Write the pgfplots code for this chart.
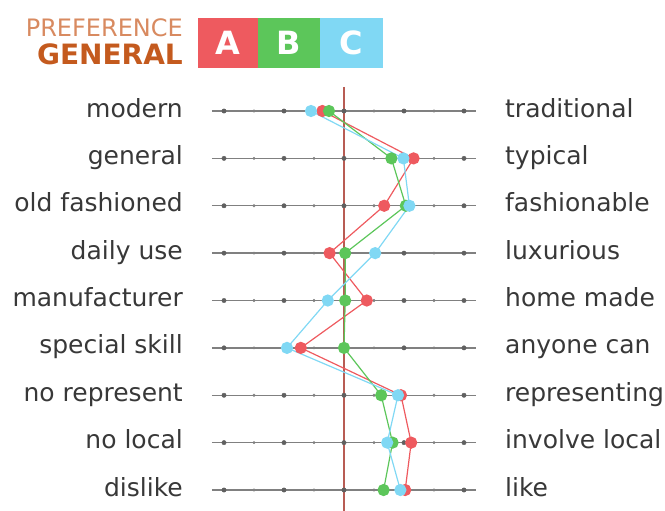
\documentclass[border=0pt]{standalone}
\usepackage{pgfplots}
\usepackage{pgfplotstable}
\pgfplotsset{compat=1.18}
\usepackage{fontspec}
\setmainfont{DejaVu Sans}
\definecolor{cA}{HTML}{EE5A5F}
\definecolor{cB}{HTML}{5CC65A}
\definecolor{cC}{HTML}{80D8F4}
\definecolor{vline}{HTML}{B85C54}
\definecolor{lab}{HTML}{383838}
\definecolor{t1}{HTML}{D88A60}
\definecolor{t2}{HTML}{C45A1E}
\definecolor{hl}{HTML}{808080}

\pgfplotstableread{
r A B C
0 -0.36 -0.25 -0.55
1 1.16 0.79 0.99
2 0.67 1.03 1.09
3 -0.24 0.02 0.52
4 0.38 0.02 -0.27
5 -0.72 0.00 -0.95
6 0.95 0.62 0.90
7 1.12 0.81 0.72
8 1.02 0.66 0.94
}\data

\begin{document}
\begin{tikzpicture}[x=1pt,y=1pt]
\useasboundingbox (0,0) rectangle (665,511);
% title
\node[anchor=base east, text=t1, font=\fontsize{24}{24}\selectfont, inner sep=0] at (183,474) {PREFERENCE};
\node[anchor=base east, text=t2, font=\fontsize{28}{28}\selectfont\bfseries, inner sep=0] at (183,446) {GENERAL};
\fill[cA] (198,443) rectangle (258,493);
\fill[cB] (258,443) rectangle (320,493);
\fill[cC] (320,443) rectangle (383,493);
\node[text=white, font=\fontsize{32}{32}\selectfont\bfseries] at (228,468) {A};
\node[text=white, font=\fontsize{32}{32}\selectfont\bfseries] at (289,468) {B};
\node[text=white, font=\fontsize{32}{32}\selectfont\bfseries] at (351.5,468) {C};
\begin{axis}[at={(212pt,0pt)}, anchor=south west, scale only axis,
  width=264pt, height=426pt, xmin=-2.2, xmax=2.2,
  ymin=-0.549, ymax=8.443, y dir=reverse, hide axis, clip=false]
\pgfplotsinvokeforeach{0,...,8}{
  \addplot[hl, line width=1.3pt] coordinates {(-2.2,#1) (2.2,#1)};
  \addplot[only marks, mark=*, mark size=2.2pt, color=hl!75!black] coordinates {(-2,#1) (-1,#1) (0,#1) (1,#1) (2,#1)};
  \addplot[only marks, mark=*, mark size=1.3pt, color=hl] coordinates {(-1.5,#1) (-0.5,#1) (0.5,#1) (1.5,#1)};
}
\addplot[vline, line width=1.5pt] coordinates {(0,-0.51) (0,8.443)};
\addplot[cA, line width=1.2pt, mark=*, mark size=5.5pt, mark options={fill=cA, draw=cA}] table[x=A, y=r] {\data};
\addplot[cB, line width=1.2pt, mark=*, mark size=5.5pt, mark options={fill=cB, draw=cB}] table[x=B, y=r] {\data};
\addplot[cC, line width=1.2pt, mark=*, mark size=5.5pt, mark options={fill=cC, draw=cC}] table[x=C, y=r] {\data};
\begin{scope}[every node/.style={text=lab, font=\fontsize{25}{25}\selectfont, inner sep=0}]
\node[anchor=base east, xshift=-29pt, yshift=-6pt] at (axis cs:-2.2,0) {modern};
\node[anchor=base east, xshift=-29pt, yshift=-6pt] at (axis cs:-2.2,1) {general};
\node[anchor=base east, xshift=-29pt, yshift=-6pt] at (axis cs:-2.2,2) {old fashioned};
\node[anchor=base east, xshift=-29pt, yshift=-6pt] at (axis cs:-2.2,3) {daily use};
\node[anchor=base east, xshift=-29pt, yshift=-6pt] at (axis cs:-2.2,4) {manufacturer};
\node[anchor=base east, xshift=-29pt, yshift=-6pt] at (axis cs:-2.2,5) {special skill};
\node[anchor=base east, xshift=-29pt, yshift=-6pt] at (axis cs:-2.2,6) {no represent};
\node[anchor=base east, xshift=-29pt, yshift=-6pt] at (axis cs:-2.2,7) {no local};
\node[anchor=base east, xshift=-29pt, yshift=-6pt] at (axis cs:-2.2,8) {dislike};
\node[anchor=base west, xshift=29pt, yshift=-6pt] at (axis cs:2.2,0) {traditional};
\node[anchor=base west, xshift=29pt, yshift=-6pt] at (axis cs:2.2,1) {typical};
\node[anchor=base west, xshift=29pt, yshift=-6pt] at (axis cs:2.2,2) {fashionable};
\node[anchor=base west, xshift=29pt, yshift=-6pt] at (axis cs:2.2,3) {luxurious};
\node[anchor=base west, xshift=29pt, yshift=-6pt] at (axis cs:2.2,4) {home made};
\node[anchor=base west, xshift=29pt, yshift=-6pt] at (axis cs:2.2,5) {anyone can};
\node[anchor=base west, xshift=29pt, yshift=-6pt] at (axis cs:2.2,6) {representing};
\node[anchor=base west, xshift=29pt, yshift=-6pt] at (axis cs:2.2,7) {involve local};
\node[anchor=base west, xshift=29pt, yshift=-6pt] at (axis cs:2.2,8) {like};
\end{scope}
\end{axis}
\end{tikzpicture}
\end{document}
